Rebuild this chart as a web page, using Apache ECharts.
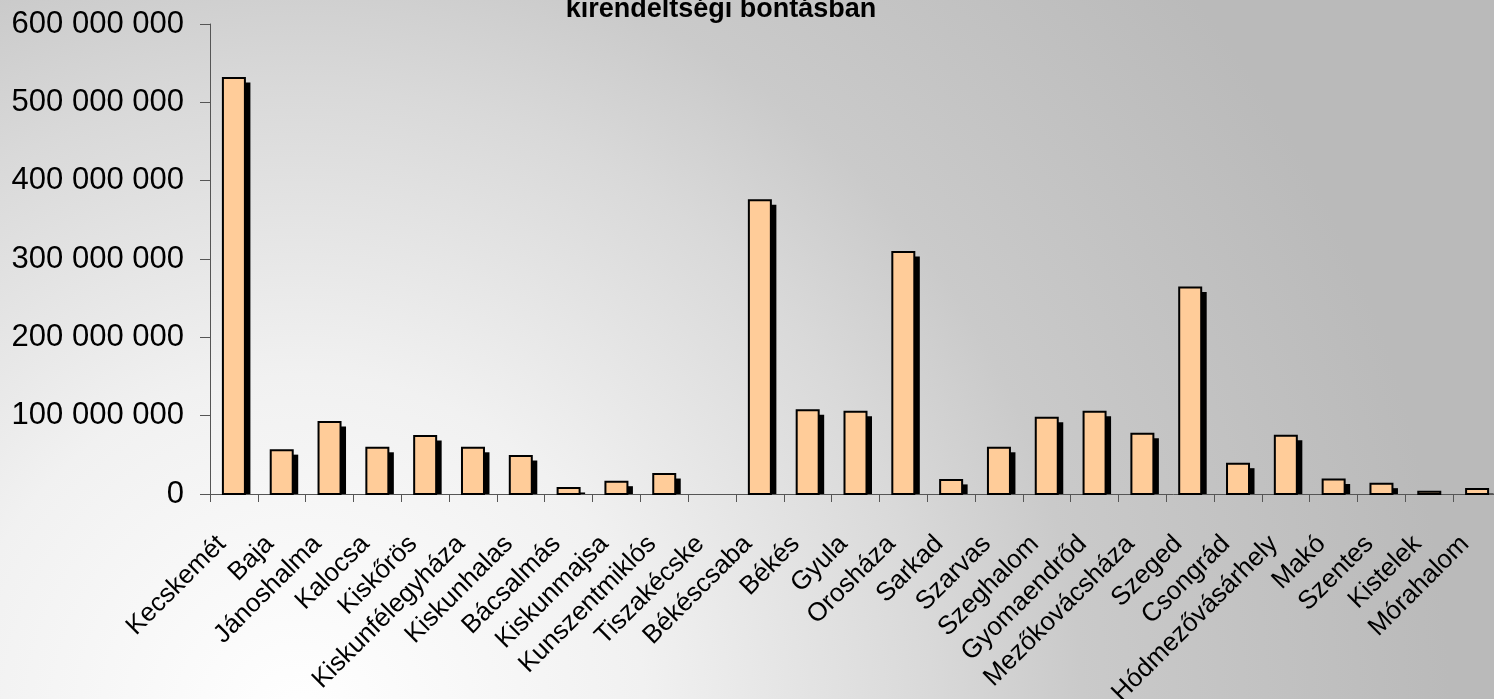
<!DOCTYPE html>
<html>
<head>
<meta charset="utf-8">
<script src="https://cdn.jsdelivr.net/npm/echarts@6/dist/echarts.min.js"></script>
<style>
html,body{margin:0;padding:0;overflow:hidden;}
#chart{width:1494px;height:699px;}
</style>
</head>
<body>
<div id="chart"></div>
<script>
const titleText = 'kirendeltségi bontásban';
const categories = ['Kecskemét','Baja','Jánoshalma','Kalocsa','Kiskőrös','Kiskunfélegyháza','Kiskunhalas','Bácsalmás','Kiskunmajsa','Kunszentmiklós','Tiszakécske','Békéscsaba','Békés','Gyula','Orosháza','Sarkad','Szarvas','Szeghalom','Gyomaendrőd','Mezőkovácsháza','Szeged','Csongrád','Hódmezővásárhely','Makó','Szentes','Kistelek','Mórahalom'];
const values = [531000000, 56000000, 92000000, 59000000, 74000000, 59000000, 48500000, 7700000, 15700000, 25500000, 0, 375000000, 107000000, 105000000, 309000000, 18000000, 59000000, 97500000, 105000000, 77000000, 263500000, 38700000, 74500000, 18500000, 13200000, 3000000, 6400000];
const yMin = 0, yMax = 600000000, yStep = 100000000;

const fmt = v => String(v).replace(/\B(?=(\d{3})+(?!\d))/g, ' ');
const FONT = '"Liberation Sans", Arial, sans-serif';

const chart = echarts.init(document.getElementById('chart'), null, {renderer: 'canvas'});
chart.setOption({
  animation: false,
  graphic: [
    {
      type: 'rect', z: -100, silent: true,
      shape: {x: 0, y: 0, width: 1494, height: 699},
      style: {
        fill: {
          type: 'radial', x: 300, y: 720, r: 1150, global: true,
          colorStops: [
            {offset: 0, color: '#FFFFFF'},
            {offset: 0.3, color: '#F1F1F1'},
            {offset: 0.55, color: '#D9D9D9'},
            {offset: 0.68, color: '#CACACA'},
            {offset: 1, color: '#BABABA'}
          ]
        }
      }
    },
    {
      type: 'text', z: 100, x: 721, y: 10,
      style: {text: titleText, font: 'bold 27px ' + FONT, fill: '#000', align: 'center', verticalAlign: 'middle'}
    }
  ],
  grid: {left: 210, right: -7, top: 24, bottom: 205, containLabel: false, outerBoundsMode: 'none'},
  xAxis: {
    type: 'category',
    data: categories,
    boundaryGap: true,
    axisLine: {show: true, lineStyle: {color: '#555', width: 1}},
    axisTick: {show: true, length: 8, lineStyle: {color: '#555'}},
    axisLabel: {rotate: 45, interval: 0, margin: 34, padding: [0, 17, 0, 0], color: '#000', fontSize: 26, fontFamily: FONT, hideOverlap: false},
    splitLine: {show: false}
  },
  yAxis: {
    type: 'value', min: yMin, max: yMax, interval: yStep,
    axisLine: {show: true, lineStyle: {color: '#555', width: 1}},
    axisTick: {show: true, length: 10, lineStyle: {color: '#555'}},
    axisLabel: {color: '#000', fontSize: 31, fontFamily: FONT, margin: 26, formatter: fmt},
    splitLine: {show: false}
  },
  series: [{
    type: 'custom',
    clip: false,
    data: values.map((v, i) => [i, v]),
    encode: {x: 0, y: 1},
    renderItem: function (params, api) {
      const v = api.value(1);
      if (!v) return null;
      const top = api.coord([api.value(0), v]);
      const base = api.coord([api.value(0), 0]);
      const bw = api.size([1, 0])[0] * 0.46;
      const x = top[0] - bw / 2;
      const h = base[1] - top[1];
      return {
        type: 'group',
        children: [
          {type: 'rect', shape: {x: x + 5.5, y: top[1] + 4.5, width: bw, height: Math.max(h - 4.5, 0)}, style: {fill: '#000'}},
          {type: 'rect', shape: {x: x, y: top[1], width: bw, height: h}, style: {fill: '#FFCC99', stroke: '#000', lineWidth: 2}}
        ]
      };
    }
  }]
});
</script>
</body>
</html>
